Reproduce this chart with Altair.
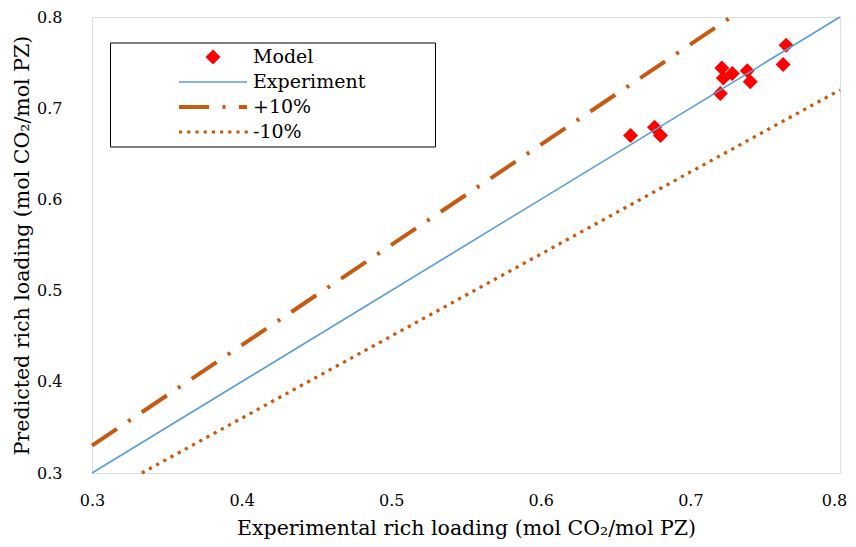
import altair as alt
import pandas as pd

# ---- data ----
series_names = ["Model", "Experiment", "+10%", "-10%"]
series_colors = ["#FF0000", "#5B9BD5", "#C55A11", "#C55A11"]

model_x = [0.660, 0.676, 0.680, 0.721, 0.722, 0.728, 0.720, 0.738, 0.740, 0.764, 0.762]
model_y = [0.670, 0.679, 0.670, 0.744, 0.733, 0.738, 0.716, 0.741, 0.729, 0.769, 0.748]

line_series = ["Experiment", "Experiment", "+10%", "+10%", "-10%", "-10%"]
line_x = [0.3, 0.8, 0.3, 0.7273, 0.3333, 0.8]
line_y = [0.3, 0.8, 0.33, 0.8, 0.3, 0.72]

axis_ticks = [0.3, 0.4, 0.5, 0.6, 0.7, 0.8]

x_title = "Experimental rich loading (mol CO₂/mol PZ)"
y_title = "Predicted rich loading (mol CO₂/mol PZ)"

FONT = "DejaVu Serif"

# ---- legend / marker glyphs (unit-box SVG paths, scaled by symbol size) ----
SYM_SIZE = 4624  # sqrt -> 68 px wide legend swatch
R = SYM_SIZE ** 0.5 / 2


def u(px):
    return round(px / R, 4)


def rect(x0, x1, h):
    return f"M{u(x0 - R)},{u(-h / 2)}H{u(x1 - R)}V{u(h / 2)}H{u(x0 - R)}Z"


diamond_path = f"M{-u(7.5)},0L0,{-u(7.5)}L{u(7.5)},0L0,{u(7.5)}Z"
exp_path = rect(0, 68, 1.7)
plus_path = rect(0, 30, 4) + rect(43.5, 46.5, 4) + rect(60, 68, 4)
minus_path = "".join(rect(i * 8.2, i * 8.2 + 3.2, 3.2) for i in range(9))
series_shapes = [diamond_path, exp_path, plus_path, minus_path]

pts = pd.DataFrame({"x": model_x, "y": model_y, "series": ["Model"] * len(model_x)})
lines = pd.DataFrame({"x": line_x, "y": line_y, "series": line_series,
                      "order": list(range(len(line_x)))})

xs = alt.Scale(domain=[0.3, 0.8], nice=False, zero=False)
ys = alt.Scale(domain=[0.3, 0.8], nice=False, zero=False)

x_axis = alt.Axis(title=x_title, values=axis_ticks, format=".1f", grid=False, ticks=False,
                  domain=False, labelFont=FONT, labelFontSize=16, labelColor="black",
                  labelPadding=19, titleFont=FONT, titleFontSize=20.5, titleFontWeight="normal",
                  titleColor="black", titlePadding=10, labelFlush=False,
                  labelOffset={"condition": {"test": "datum.value >= 0.79", "value": -6},
                               "value": 0})
y_axis = alt.Axis(title=y_title, values=axis_ticks, format=".1f", grid=False, ticks=False,
                  domain=False, labelFont=FONT, labelFontSize=16, labelColor="black",
                  labelPadding=30, titleFont=FONT, titleFontSize=20.5, titleFontWeight="normal",
                  titleColor="black", titlePadding=4, labelFlush=False)

legend = alt.Legend(
    title="00000000000",
    titleOrient="right",
    titleFont="DejaVu Sans Mono",
    titleFontSize=10,
    titleColor="transparent",
    titlePadding=1,
    orient="none",
    legendX=18,
    legendY=25.5,
    padding=2,
    strokeColor="black",
    fillColor="white",
    symbolSize=SYM_SIZE,
    symbolStrokeWidth=0,
    symbolOpacity=1,
    symbolOffset=67,
    labelOffset=6,
    clipHeight=25,
    rowPadding=0,
    labelFont=FONT,
    labelFontSize=19,
    labelColor="black",
    labelLimit=300,
)

color = alt.Color("series:N", scale=alt.Scale(domain=series_names, range=series_colors),
                  legend=legend)
shape = alt.Shape("series:N", scale=alt.Scale(domain=series_names, range=series_shapes),
                  legend=legend)

points = alt.Chart(pts).mark_point(filled=True, size=SYM_SIZE, opacity=1,
                                   strokeWidth=0).encode(
    x=alt.X("x:Q", scale=xs, axis=x_axis),
    y=alt.Y("y:Q", scale=ys, axis=y_axis),
    color=color,
    shape=shape,
)


def line_layer(name, col, width, dash=None):
    kw = dict(strokeWidth=width, strokeCap="butt", color=col)
    if dash is not None:
        kw["strokeDash"] = dash
    return alt.Chart(lines).transform_filter(f"datum.series === '{name}'").mark_line(**kw).encode(
        x=alt.X("x:Q", scale=xs, axis=x_axis),
        y=alt.Y("y:Q", scale=ys, axis=y_axis),
        order="order:Q",
    )


exp_line = line_layer("Experiment", series_colors[1], 1.6)
plus_line = line_layer("+10%", series_colors[2], 4, [30, 13.5, 3, 13.5])
minus_line = line_layer("-10%", series_colors[3], 3.2, [3.2, 5])

chart = alt.layer(points, exp_line, plus_line, minus_line).properties(
    width=748,
    height=456,
    autosize=alt.AutoSizeParams(type="none"),
    padding={"left": 84, "top": 9, "right": 8, "bottom": 66},
).configure_view(
    stroke="black", strokeWidth=2.5
).configure_legend(
    strokeWidth=2.7
).configure(background="white")

chart.save("out.html", embed_options={"renderer": "svg", "actions": False})
